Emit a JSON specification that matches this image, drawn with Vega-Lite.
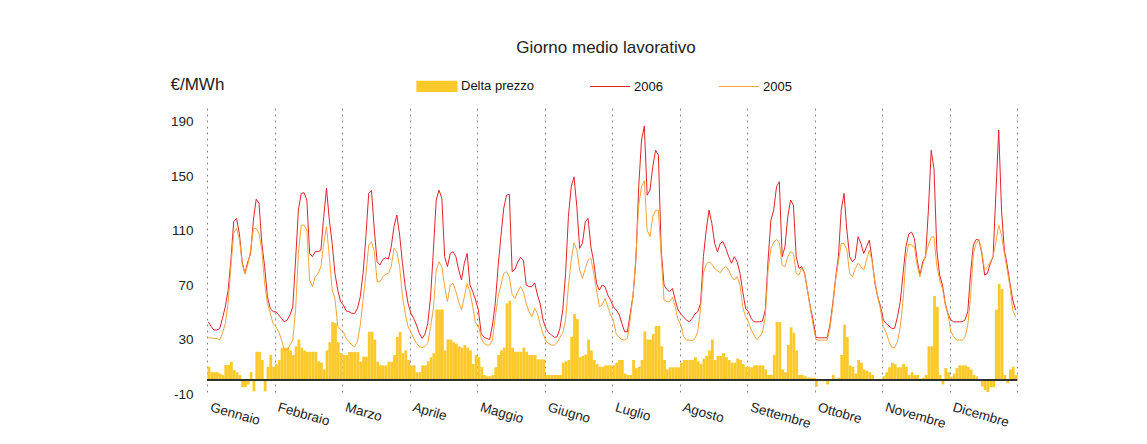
{
"$schema": "https://vega.github.io/schema/vega-lite/v6.json",
"autosize": {"type": "none"},
"width": 810,
"height": 286,
"padding": {"left": 207, "top": 108, "right": 130, "bottom": 50},
"background": "white",
"config": {"font": "Liberation Sans", "view": {"stroke": null}},
"title": {"text": "Giorno medio lavorativo", "fontSize": 17, "font": "Liberation Sans", "fontWeight": "normal", "color": "#222", "anchor": "middle", "frame": "group", "offset": 8, "dx": -6},
"data": {"values": [
{"i":0,"2006":43,"2005":31.3,"delta":10},{"i":1,"2006":39.4,"2005":31.3,"delta":6},{"i":2,"2006":37,"2005":30.8,"delta":6},{"i":3,"2006":37,"2005":30.8,"delta":6},{"i":4,"2006":38,"2005":29.6,"delta":5},{"i":5,"2006":45.5,"2005":34.5,"delta":4},{"i":6,"2006":54,"2005":41.8,"delta":11.3},{"i":7,"2006":66,"2005":56.5,"delta":11.3},{"i":8,"2006":88,"2005":83.5,"delta":13.7},{"i":9,"2006":116.5,"2005":108,"delta":7.6},{"i":10,"2006":119,"2005":111.6,"delta":6},{"i":11,"2006":108,"2005":104,"delta":4},{"i":12,"2006":87,"2005":86,"delta":-5},{"i":13,"2006":78.5,"2005":78.6,"delta":-5},{"i":14,"2006":87,"2005":84.7,"delta":-3},{"i":15,"2006":93,"2005":95.7,"delta":6},{"i":16,"2006":117.7,"2005":111.6,"delta":-8},{"i":17,"2006":133,"2005":111.6,"delta":21},{"i":18,"2006":130,"2005":108,"delta":21},{"i":19,"2006":100.6,"2005":95.7,"delta":15},{"i":20,"2006":83.5,"2005":71,"delta":-8},{"i":21,"2006":61.4,"2005":56.5,"delta":10},{"i":22,"2006":52.9,"2005":49.2,"delta":18.6},{"i":23,"2006":50.4,"2005":41.8,"delta":10},
{"i":24,"2006":50.4,"2005":39.4,"delta":12},{"i":25,"2006":48,"2005":35.7,"delta":15},{"i":26,"2006":45.5,"2005":29.6,"delta":24},{"i":27,"2006":43,"2005":22.3,"delta":24},{"i":28,"2006":44.3,"2005":22.3,"delta":24},{"i":29,"2006":48,"2005":25.9,"delta":22},{"i":30,"2006":54,"2005":29.6,"delta":18.6},{"i":31,"2006":88.3,"2005":51.6,"delta":25},{"i":32,"2006":125,"2005":93.2,"delta":30},{"i":33,"2006":137.3,"2005":114,"delta":24},{"i":34,"2006":137.8,"2005":114,"delta":22},{"i":35,"2006":132.4,"2005":110.4,"delta":21},{"i":36,"2006":93.3,"2005":73.7,"delta":21},{"i":37,"2006":90.8,"2005":68.8,"delta":21},{"i":38,"2006":94.5,"2005":76.1,"delta":21},{"i":39,"2006":94.5,"2005":78.6,"delta":14},{"i":40,"2006":95.7,"2005":83.5,"delta":13},{"i":41,"2006":120.2,"2005":100.6,"delta":8},{"i":42,"2006":141,"2005":112.8,"delta":22},{"i":43,"2006":117.7,"2005":90.8,"delta":28},{"i":44,"2006":100.6,"2005":66.3,"delta":42.8},{"i":45,"2006":78.6,"2005":60.2,"delta":42},{"i":46,"2006":66.3,"2005":39.4,"delta":28},{"i":47,"2006":57.8,"2005":37,"delta":20},
{"i":48,"2006":55.3,"2005":35.7,"delta":18.6},{"i":49,"2006":51,"2005":30.8,"delta":18.6},{"i":50,"2006":50.4,"2005":28.4,"delta":20.8},{"i":51,"2006":49.2,"2005":25.9,"delta":20.8},{"i":52,"2006":49.2,"2005":24.7,"delta":20.8},{"i":53,"2006":52.9,"2005":28.4,"delta":20.8},{"i":54,"2006":61.4,"2005":40.6,"delta":13.7},{"i":55,"2006":78.6,"2005":59,"delta":17.4},{"i":56,"2006":105.5,"2005":77.3,"delta":17.4},{"i":57,"2006":137.3,"2005":99.4,"delta":35.7},{"i":58,"2006":139.3,"2005":101.8,"delta":35.7},{"i":59,"2006":110.4,"2005":94.5,"delta":30},{"i":60,"2006":87,"2005":72.4,"delta":13.7},{"i":61,"2006":84.7,"2005":72.4,"delta":11},{"i":62,"2006":88.8,"2005":76.1,"delta":11},{"i":63,"2006":90,"2005":77.8,"delta":11},{"i":64,"2006":89,"2005":78.6,"delta":13.7},{"i":65,"2006":98,"2005":83.5,"delta":13.7},{"i":66,"2006":113,"2005":97,"delta":18.6},{"i":67,"2006":121.4,"2005":94.5,"delta":32},{"i":68,"2006":106.7,"2005":83.5,"delta":35.7},{"i":69,"2006":86,"2005":61.4,"delta":20},{"i":70,"2006":68.8,"2005":49.2,"delta":22},{"i":71,"2006":56.5,"2005":39.4,"delta":15},
{"i":72,"2006":49.2,"2005":35.7,"delta":11},{"i":73,"2006":45.5,"2005":30.8,"delta":11},{"i":74,"2006":40.6,"2005":27.2,"delta":6},{"i":75,"2006":34.5,"2005":24.7,"delta":6},{"i":76,"2006":30.8,"2005":24.2,"delta":11},{"i":77,"2006":34,"2005":24.7,"delta":11},{"i":78,"2006":41.8,"2005":27.2,"delta":14},{"i":79,"2006":61.4,"2005":39.4,"delta":17},{"i":80,"2006":95.7,"2005":52.9,"delta":20},{"i":81,"2006":132.4,"2005":81,"delta":52},{"i":82,"2006":139.7,"2005":87.1,"delta":52},{"i":83,"2006":133.6,"2005":83.5,"delta":52},{"i":84,"2006":90.8,"2005":68.8,"delta":22},{"i":85,"2006":83.5,"2005":57.8,"delta":30},{"i":86,"2006":93.2,"2005":70,"delta":30},{"i":87,"2006":94.5,"2005":71.2,"delta":28},{"i":88,"2006":90.8,"2005":65.1,"delta":27},{"i":89,"2006":81,"2005":57.8,"delta":25},{"i":90,"2006":73.7,"2005":51.6,"delta":24},{"i":91,"2006":86,"2005":61.4,"delta":26},{"i":92,"2006":93.2,"2005":71.2,"delta":24},{"i":93,"2006":70,"2005":65.1,"delta":22},{"i":94,"2006":65.1,"2005":54,"delta":12},{"i":95,"2006":59,"2005":41.8,"delta":18.6},
{"i":96,"2006":51.6,"2005":40.6,"delta":17},{"i":97,"2006":34.5,"2005":30.8,"delta":10},{"i":98,"2006":31.6,"2005":27.2,"delta":4},{"i":99,"2006":30.8,"2005":25.9,"delta":3},{"i":100,"2006":30,"2005":25.9,"delta":3},{"i":101,"2006":40.6,"2005":29.6,"delta":4},{"i":102,"2006":56.5,"2005":46.7,"delta":9.6},{"i":103,"2006":83.5,"2005":61.4,"delta":18.6},{"i":104,"2006":105.5,"2005":70,"delta":22},{"i":105,"2006":126.3,"2005":78.6,"delta":24},{"i":106,"2006":136,"2005":79.8,"delta":56.5},{"i":107,"2006":136.6,"2005":76.1,"delta":58.5},{"i":108,"2006":79.8,"2005":62.7,"delta":24},{"i":109,"2006":81.5,"2005":60.2,"delta":21},{"i":110,"2006":87,"2005":65.1,"delta":21},{"i":111,"2006":90.3,"2005":68.8,"delta":21},{"i":112,"2006":88.3,"2005":65.1,"delta":24},{"i":113,"2006":70,"2005":56.5,"delta":21},{"i":114,"2006":68.8,"2005":50.4,"delta":18.6},{"i":115,"2006":68.8,"2005":46.7,"delta":18.6},{"i":116,"2006":71.7,"2005":52.9,"delta":18.6},{"i":117,"2006":62.7,"2005":49.2,"delta":15.4},{"i":118,"2006":56,"2005":40.6,"delta":15.4},{"i":119,"2006":44.3,"2005":34.5,"delta":15.4},
{"i":120,"2006":38.2,"2005":28.4,"delta":4},{"i":121,"2006":35,"2005":27.2,"delta":4},{"i":122,"2006":33.3,"2005":25.9,"delta":4},{"i":123,"2006":31.6,"2005":25.9,"delta":4},{"i":124,"2006":32.1,"2005":27.7,"delta":4},{"i":125,"2006":38.2,"2005":31.6,"delta":4},{"i":126,"2006":51.6,"2005":35,"delta":13},{"i":127,"2006":78.6,"2005":44.3,"delta":14},{"i":128,"2006":120.2,"2005":68.8,"delta":15},{"i":129,"2006":142.2,"2005":88.3,"delta":32},{"i":130,"2006":149.5,"2005":101,"delta":48.7},{"i":131,"2006":127.5,"2005":95.7,"delta":45},{"i":132,"2006":96.9,"2005":81,"delta":17},{"i":133,"2006":100.6,"2005":74.9,"delta":18},{"i":134,"2006":116.5,"2005":82.2,"delta":19},{"i":135,"2006":119,"2005":88.3,"delta":30},{"i":136,"2006":98,"2005":89.6,"delta":22},{"i":137,"2006":87.1,"2005":78.6,"delta":15},{"i":138,"2006":71.2,"2005":66.3,"delta":12},{"i":139,"2006":66.3,"2005":54,"delta":10},{"i":140,"2006":70,"2005":55.3,"delta":10},{"i":141,"2006":68.8,"2005":60.2,"delta":11},{"i":142,"2006":62.7,"2005":54,"delta":11},{"i":143,"2006":59,"2005":48,"delta":11},
{"i":144,"2006":54,"2005":44.3,"delta":11},{"i":145,"2006":51.6,"2005":34,"delta":13},{"i":146,"2006":48.7,"2005":31.6,"delta":15},{"i":147,"2006":41.8,"2005":30,"delta":15},{"i":148,"2006":35.7,"2005":29.6,"delta":5},{"i":149,"2006":35.7,"2005":30.8,"delta":4},{"i":150,"2006":49.2,"2005":45.5,"delta":4},{"i":151,"2006":62.7,"2005":62.7,"delta":15},{"i":152,"2006":88.3,"2005":90.8,"delta":9},{"i":153,"2006":142.2,"2005":128.7,"delta":10},{"i":154,"2006":176.5,"2005":142.2,"delta":15},{"i":155,"2006":186.7,"2005":146.6,"delta":36},{"i":156,"2006":136,"2005":110.4,"delta":30},{"i":157,"2006":139.7,"2005":105.5,"delta":30},{"i":158,"2006":156.9,"2005":120.2,"delta":34},{"i":159,"2006":169.1,"2005":125,"delta":40},{"i":160,"2006":165.4,"2005":125,"delta":40},{"i":161,"2006":95.7,"2005":90.8,"delta":25},{"i":162,"2006":70,"2005":59,"delta":15},{"i":163,"2006":66.8,"2005":57.8,"delta":8},{"i":164,"2006":65.1,"2005":57.8,"delta":9.6},{"i":165,"2006":67.5,"2005":61,"delta":9.6},{"i":166,"2006":59,"2005":54,"delta":9.6},{"i":167,"2006":51.6,"2005":44.3,"delta":9.6},
{"i":168,"2006":48.7,"2005":40.6,"delta":13},{"i":169,"2006":46.3,"2005":32.1,"delta":15},{"i":170,"2006":44.3,"2005":29.6,"delta":15},{"i":171,"2006":43,"2005":29.6,"delta":15},{"i":172,"2006":45.5,"2005":29.1,"delta":15},{"i":173,"2006":48.7,"2005":30.8,"delta":17},{"i":174,"2006":50.4,"2005":35.7,"delta":14},{"i":175,"2006":56.5,"2005":52.9,"delta":12},{"i":176,"2006":90.8,"2005":78.6,"delta":16},{"i":177,"2006":110.4,"2005":85.4,"delta":18},{"i":178,"2006":125,"2005":87.1,"delta":22},{"i":179,"2006":115.3,"2005":85.4,"delta":30},{"i":180,"2006":100.6,"2005":82.2,"delta":15},{"i":181,"2006":94.5,"2005":80.5,"delta":18},{"i":182,"2006":100.6,"2005":79,"delta":18},{"i":183,"2006":101.8,"2005":82.2,"delta":20},{"i":184,"2006":96.9,"2005":83.5,"delta":17},{"i":185,"2006":90.8,"2005":81,"delta":15},{"i":186,"2006":86,"2005":76.1,"delta":13},{"i":187,"2006":90.8,"2005":73.7,"delta":13},{"i":188,"2006":87.1,"2005":76.1,"delta":16},{"i":189,"2006":78.6,"2005":70,"delta":15},{"i":190,"2006":65.1,"2005":54,"delta":12},{"i":191,"2006":52.9,"2005":46.7,"delta":10},
{"i":192,"2006":50.4,"2005":43,"delta":10},{"i":193,"2006":45.5,"2005":37,"delta":9.6},{"i":194,"2006":43,"2005":33.3,"delta":11},{"i":195,"2006":43,"2005":30,"delta":11},{"i":196,"2006":43,"2005":32.1,"delta":11},{"i":197,"2006":43.6,"2005":35,"delta":11},{"i":198,"2006":51.6,"2005":46.7,"delta":8},{"i":199,"2006":88.3,"2005":81,"delta":4},{"i":200,"2006":117.7,"2005":97,"delta":4},{"i":201,"2006":125,"2005":101.3,"delta":18.6},{"i":202,"2006":142.2,"2005":103.5,"delta":42.8},{"i":203,"2006":145.9,"2005":101,"delta":42.8},{"i":204,"2006":90.8,"2005":84.7,"delta":8},{"i":205,"2006":98.1,"2005":83.5,"delta":6},{"i":206,"2006":120.2,"2005":90.8,"delta":26},{"i":207,"2006":132.4,"2005":94.5,"delta":39},{"i":208,"2006":128.7,"2005":93.2,"delta":35},{"i":209,"2006":90.8,"2005":78.6,"delta":22},{"i":210,"2006":82.2,"2005":77.3,"delta":4},{"i":211,"2006":83.5,"2005":83,"delta":4},{"i":212,"2006":78.6,"2005":78,"delta":3},{"i":213,"2006":66.3,"2005":66.3,"delta":2},{"i":214,"2006":54,"2005":52.9,"delta":2},{"i":215,"2006":44.3,"2005":40.6,"delta":2},
{"i":216,"2006":31.6,"2005":30.1,"delta":-4.6},{"i":217,"2006":31.3,"2005":29.6,"delta":0},{"i":218,"2006":31.3,"2005":29.6,"delta":0},{"i":219,"2006":31.3,"2005":29.6,"delta":0},{"i":220,"2006":31.3,"2005":29.6,"delta":-3},{"i":221,"2006":40.6,"2005":38.2,"delta":0},{"i":222,"2006":56.5,"2005":54,"delta":4},{"i":223,"2006":74.9,"2005":73.7,"delta":0},{"i":224,"2006":90.8,"2005":87.1,"delta":2},{"i":225,"2006":125,"2005":100.6,"delta":18.6},{"i":226,"2006":137.3,"2005":100.6,"delta":41},{"i":227,"2006":110.4,"2005":95.7,"delta":31.6},{"i":228,"2006":90.8,"2005":78.6,"delta":11},{"i":229,"2006":87.1,"2005":76.1,"delta":10},{"i":230,"2006":89.6,"2005":82.2,"delta":5},{"i":231,"2006":105.5,"2005":86,"delta":15},{"i":232,"2006":100.6,"2005":83.5,"delta":13},{"i":233,"2006":93.2,"2005":81,"delta":8},{"i":234,"2006":98.1,"2005":88.3,"delta":7},{"i":235,"2006":103,"2005":95.7,"delta":6},{"i":236,"2006":88.3,"2005":87.1,"delta":4},{"i":237,"2006":71.2,"2005":72.4,"delta":1},{"i":238,"2006":61.4,"2005":61.4,"delta":0},{"i":239,"2006":54,"2005":51.6,"delta":0},
{"i":240,"2006":44.3,"2005":39.4,"delta":3},{"i":241,"2006":41.8,"2005":35,"delta":6},{"i":242,"2006":39.9,"2005":28.4,"delta":9.6},{"i":243,"2006":38.2,"2005":24.2,"delta":13},{"i":244,"2006":38.2,"2005":24.2,"delta":12},{"i":245,"2006":46.7,"2005":28.4,"delta":9.6},{"i":246,"2006":57.8,"2005":39.4,"delta":9.6},{"i":247,"2006":78.6,"2005":59,"delta":12},{"i":248,"2006":98.1,"2005":89.6,"delta":10},{"i":249,"2006":107.4,"2005":100.1,"delta":4},{"i":250,"2006":108.9,"2005":99.4,"delta":6},{"i":251,"2006":104.3,"2005":98.1,"delta":4},{"i":252,"2006":88.3,"2005":84.7,"delta":4},{"i":253,"2006":77.3,"2005":76.1,"delta":1},{"i":254,"2006":87.1,"2005":84.7,"delta":2},{"i":255,"2006":90.8,"2005":92,"delta":4},{"i":256,"2006":125,"2005":99.4,"delta":25},{"i":257,"2006":169,"2005":105,"delta":25},{"i":258,"2006":155,"2005":105.5,"delta":62},{"i":259,"2006":95.7,"2005":83.5,"delta":54},{"i":260,"2006":77.3,"2005":73.7,"delta":4},{"i":261,"2006":70,"2005":67.5,"delta":-3},{"i":262,"2006":56.5,"2005":55.3,"delta":9},{"i":263,"2006":48.7,"2005":48,"delta":6},
{"i":264,"2006":44.3,"2005":35.7,"delta":2.7},{"i":265,"2006":43,"2005":32.1,"delta":5},{"i":266,"2006":43,"2005":29.6,"delta":9},{"i":267,"2006":43,"2005":29.6,"delta":11},{"i":268,"2006":43,"2005":29.6,"delta":11},{"i":269,"2006":44.3,"2005":31.6,"delta":11},{"i":270,"2006":50.4,"2005":40.6,"delta":10},{"i":271,"2006":78.6,"2005":61.4,"delta":8},{"i":272,"2006":99.4,"2005":93.2,"delta":4},{"i":273,"2006":103.5,"2005":100.6,"delta":3},{"i":274,"2006":103,"2005":103.5,"delta":0},{"i":275,"2006":93.2,"2005":94.5,"delta":-4.6},{"i":276,"2006":77.3,"2005":81,"delta":-7},{"i":277,"2006":78.6,"2005":83.5,"delta":-8.6},{"i":278,"2006":85.9,"2005":87.1,"delta":-5},{"i":279,"2006":90.8,"2005":90.8,"delta":-5},{"i":280,"2006":137.3,"2005":101.8,"delta":52},{"i":281,"2006":183.8,"2005":114,"delta":70.8},{"i":282,"2006":125,"2005":106.7,"delta":67},{"i":283,"2006":95.7,"2005":93.2,"delta":4},{"i":284,"2006":84.7,"2005":81,"delta":-2},{"i":285,"2006":71.2,"2005":68.8,"delta":8},{"i":286,"2006":59,"2005":51.6,"delta":10},{"i":287,"2006":51.6,"2005":46.7,"delta":4}
]},
"layer": [
{
"mark": {"type": "bar", "binSpacing": 0, "color": "#fcc92a"},
"encoding": {
"x": {"field": "i", "type": "quantitative", "bin": {"binned": true, "step": 1},
 "scale": {"domain": [0, 288], "nice": false, "zero": false},
 "axis": {"values": [0,24,48,72,96,120,144,168,192,216,240,264,288], "grid": true, "gridDash": [2,4], "gridColor": "#8a8a8a", "gridWidth": 1, "domain": false, "ticks": false,
  "labelExpr": "datum.value < 288 ? ['Gennaio','Febbraio','Marzo','Aprile','Maggio','Giugno','Luglio','Agosto','Settembre','Ottobre','Novembre','Dicembre'][datum.value/24] : ''",
  "labelAngle": 16, "labelAlign": "left", "labelBaseline": "top", "labelPadding": 6, "labelOffset": 5, "labelFontSize": 13.5, "labelColor": "#222", "labelOverlap": false, "labelFlush": false, "labelBound": false, "title": null}},
"y": {"field": "delta", "type": "quantitative",
 "scale": {"domain": [-10, 200], "nice": false},
 "axis": {"values": [-10,30,70,110,150,190], "grid": false, "domain": false, "ticks": false, "tickSize": 0, "labelPadding": 14, "labelFontSize": 13.5, "labelColor": "#222",
  "labelExpr": "replace(datum.label, '\u2212', '-')",
  "title": "€/MWh", "titleAngle": 0, "titleAlign": "left", "titleBaseline": "middle", "titleX": -37, "titleY": -24, "titleFontSize": 17, "titleFontWeight": "normal", "titleColor": "#222"}},
"color": {"datum": "Delta prezzo", "type": "nominal",
 "scale": {"domain": ["Delta prezzo", "2006", "2005"], "range": ["#fcc92a", "#e4222b", "#f5a43a"]}}
}
},
{
"transform": [{"fold": ["2006", "2005"], "as": ["serie", "prezzo"]}],
"mark": {"type": "line", "strokeWidth": 1, "xOffset": 1.4},
"encoding": {
"x": {"field": "i", "type": "quantitative"},
"y": {"field": "prezzo", "type": "quantitative"},
"color": {"field": "serie", "type": "nominal",
 "legend": {"orient": "none", "legendX": 209, "legendY": -43, "direction": "horizontal", "title": null,
  "columnPadding": 53, "labelFontSize": 13, "labelColor": "#111", "labelOffset": 3, "symbolSize": 1600,
  "encode": {"symbols": {"update": {
   "shape": {"signal": "datum.value === 'Delta prezzo' ? 'M-1,-0.25H1V0.25H-1Z' : 'M-1,0H1'"},
   "fill": {"signal": "datum.value === 'Delta prezzo' ? '#fcc92a' : 'transparent'"},
   "stroke": {"signal": "datum.value === 'Delta prezzo' ? 'transparent' : (datum.value === '2006' ? '#e4222b' : '#f5a43a')"},
   "strokeWidth": {"value": 1.2},
   "opacity": {"value": 1}
  }}}}}
}
},
{
"mark": {"type": "rule", "color": "#333", "strokeWidth": 1.2},
"encoding": {"y": {"datum": 0}}
}
]
}
